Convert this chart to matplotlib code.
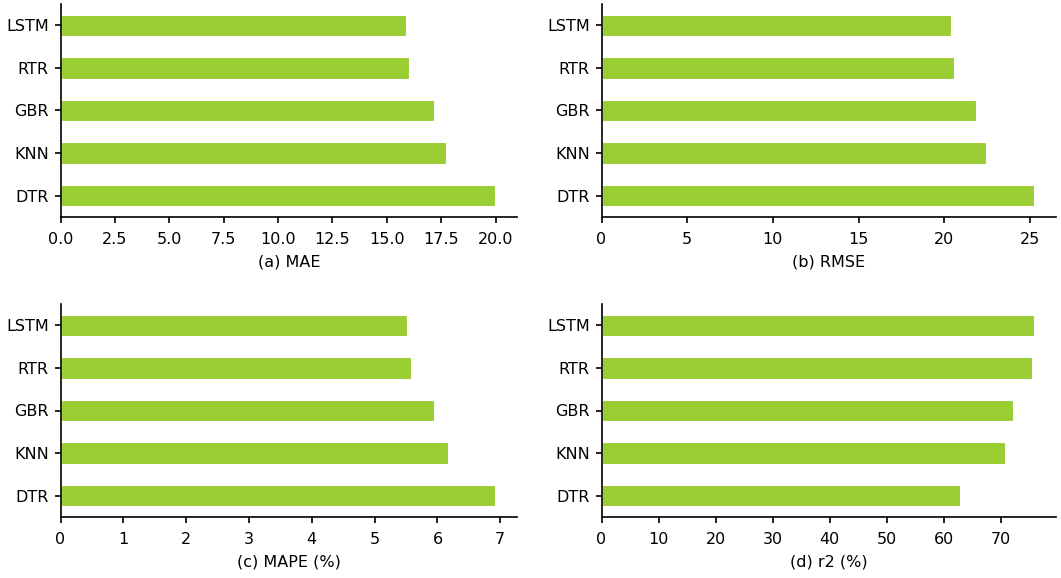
import matplotlib.pyplot as plt

# model names, bottom to top
models = ['DTR', 'KNN', 'GBR', 'RTR', 'LSTM']

mae = [19.98, 17.70, 17.15, 16.02, 15.89]
rmse = [25.25, 22.44, 21.85, 20.59, 20.36]
mape = [6.92, 6.17, 5.95, 5.58, 5.51]
r2 = [62.9, 70.8, 72.2, 75.4, 75.9]

labels = ['(a) MAE', '(b) RMSE', '(c) MAPE (%)', '(d) r2 (%)']
series = [mae, rmse, mape, r2]

plt.rcParams['font.family'] = 'DejaVu Sans'
plt.rcParams['font.size'] = 11.5

W, H = 1061, 578
fig = plt.figure(figsize=(W / 100, H / 100), dpi=100)

# axes boxes in pixels: left, top, right, bottom
boxes = [
    (60.5, 4, 517, 217),
    (601.5, 4, 1056, 217),
    (60.5, 304, 517, 517),
    (601.5, 304, 1056, 517),
]

for (l, t, r, b), vals, lab in zip(boxes, series, labels):
    ax = fig.add_axes([l / W, (H - b) / H, (r - l) / W, (b - t) / H])
    ax.barh(range(len(models)), vals, height=0.5, color='yellowgreen',
            edgecolor='white', linewidth=0.8)
    ax.set_yticks(range(len(models)))
    ax.set_yticklabels(models)
    ax.set_ylim(-0.5, len(models) - 0.5)
    ax.set_xlabel(lab, labelpad=5)
    for s in ['top', 'right']:
        ax.spines[s].set_visible(False)
    for s in ['left', 'bottom']:
        ax.spines[s].set_linewidth(1.2)
    ax.tick_params(length=4.5, width=1.2, labelsize=11.5)
    ax.tick_params(axis='x', pad=6.5)
    ax.tick_params(axis='y', pad=4)

fig.savefig('out.png', dpi=100)
